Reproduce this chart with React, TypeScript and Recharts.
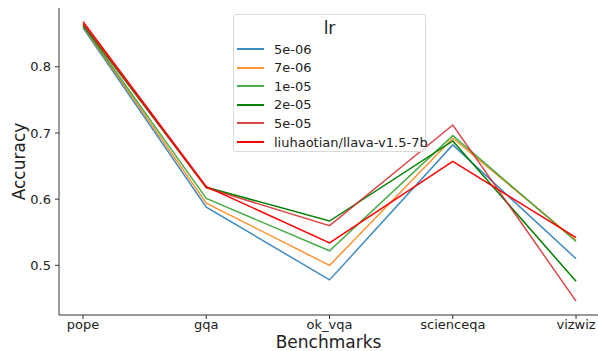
import { Line, LineChart, XAxis, YAxis } from "recharts";

const benchmarks = ["pope", "gqa", "ok_vqa", "scienceqa", "vizwiz"];

const lr5e6 = [0.859, 0.588, 0.478, 0.682, 0.51];
const lr7e6 = [0.861, 0.594, 0.5, 0.692, 0.538];
const lr1e5 = [0.862, 0.601, 0.522, 0.696, 0.536];
const lr2e5 = [0.863, 0.618, 0.567, 0.688, 0.476];
const lr5e5 = [0.865, 0.617, 0.56, 0.712, 0.446];
const llava = [0.868, 0.619, 0.534, 0.657, 0.542];

const yTicks = [0.5, 0.6, 0.7, 0.8];

const series = [
  { key: "a", name: "5e-06", color: "#1f77b4", opacity: 0.85, values: lr5e6 },
  { key: "b", name: "7e-06", color: "#ff7f0e", opacity: 0.85, values: lr7e6 },
  { key: "c", name: "1e-05", color: "#2ca02c", opacity: 0.85, values: lr1e5 },
  { key: "d", name: "2e-05", color: "#008000", opacity: 1, values: lr2e5 },
  { key: "e", name: "5e-05", color: "#d62728", opacity: 0.85, values: lr5e5 },
  { key: "f", name: "liuhaotian/llava-v1.5-7b", color: "#ff0000", opacity: 1, values: llava },
];

const data = benchmarks.map((name, i) => {
  const row: Record<string, number | string> = { x: i, name };
  series.forEach((s) => {
    row[s.key] = s.values[i];
  });
  return row;
});

const font = "DejaVu Sans, sans-serif";
const axisColor = "#333";

function LegendBox() {
  return (
    <div
      style={{
        position: "absolute",
        left: 233,
        top: 14,
        width: 193,
        height: 138,
        boxSizing: "border-box",
        border: "1px solid #d9d9d9",
        borderRadius: 3,
        background: "rgba(255,255,255,0.8)",
        fontFamily: font,
        color: "#222",
      }}
    >
      <div style={{ textAlign: "center", fontSize: 17, lineHeight: "20px", marginTop: 3 }}>lr</div>
      {series.map((s, i) => (
        <div
          key={s.key}
          style={{
            position: "absolute",
            left: 3,
            top: 25 + i * 18.6,
            display: "flex",
            alignItems: "center",
            height: 18,
          }}
        >
          <span
            style={{
              display: "inline-block",
              width: 27,
              height: 0,
              borderTop: `2px solid ${s.color}`,
              opacity: s.opacity,
            }}
          />
          <span style={{ fontSize: 13, marginLeft: 10, whiteSpace: "nowrap" }}>{s.name}</span>
        </div>
      ))}
    </div>
  );
}

export default function App() {
  return (
    <div style={{ position: "absolute", left: 0, top: 0, width: 598, height: 351, background: "#fff" }}>
      <LineChart
        width={598}
        height={351}
        data={data}
        margin={{ top: 8, right: 0, left: 0, bottom: 0 }}
      >
        <XAxis
          xAxisId="top"
          orientation="top"
          dataKey="x"
          type="number"
          domain={[-0.195, 4.178]}
          allowDataOverflow
          height={0}
          tick={false}
          tickLine={false}
          stroke={axisColor}
        />
        <XAxis
          dataKey="x"
          type="number"
          domain={[-0.195, 4.178]}
          allowDataOverflow
          ticks={[0, 1, 2, 3, 4]}
          tickFormatter={(v) => benchmarks[v as number] ?? ""}
          height={36}
          tickSize={4}
          tickMargin={1}
          stroke={axisColor}
          tick={{ fill: "#222", fontSize: 13, fontFamily: font }}
          label={{
            value: "Benchmarks",
            position: "insideBottom",
            offset: 3,
            fill: "#222",
            fontSize: 17,
            fontFamily: font,
          }}
        />
        <YAxis
          type="number"
          domain={[0.425, 0.8888]}
          allowDataOverflow
          ticks={yTicks}
          width={59}
          tickSize={4}
          tickMargin={4}
          stroke={axisColor}
          tick={{ fill: "#222", fontSize: 13, fontFamily: font }}
          label={{
            value: "Accuracy",
            angle: -90,
            position: "insideLeft",
            offset: 19,
            fill: "#222",
            fontSize: 17,
            fontFamily: font,
            style: { textAnchor: "middle" },
          }}
        />
        {series.map((s) => (
          <Line
            key={s.key}
            xAxisId={0}
            dataKey={s.key}
            name={s.name}
            type="linear"
            stroke={s.color}
            strokeOpacity={s.opacity}
            strokeWidth={1.5}
            dot={false}
            isAnimationActive={false}
          />
        ))}
      </LineChart>
      <LegendBox />
    </div>
  );
}
